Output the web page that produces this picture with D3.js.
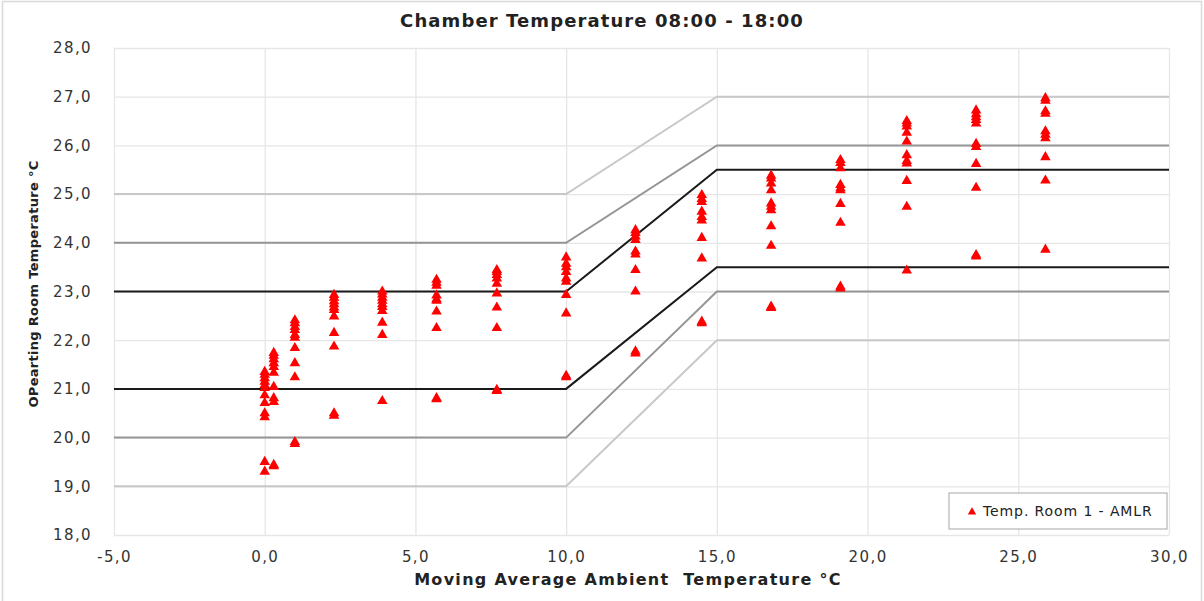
<!DOCTYPE html>
<html>
<head>
<meta charset="utf-8">
<script src="https://cdn.jsdelivr.net/npm/d3@7"></script>
<style>
  html, body { margin: 0; padding: 0; background: #fff; }
  text { font-family: "DejaVu Sans", Verdana, sans-serif; }
</style>
</head>
<body>
<script>
// ambient temperature groups and the room readings measured at each
const ambient = [0.0, 0.3, 1.0, 2.3, 3.9, 5.7, 7.7, 10.0, 12.3, 14.5, 16.8, 19.1, 21.3, 23.6, 25.9];
const roomTemps = [
  [21.35, 21.29, 21.22, 21.15, 21.08, 21.02, 20.87, 20.71, 20.5, 20.42, 19.5, 19.3],
  [21.74, 21.68, 21.61, 21.53, 21.45, 21.33, 21.04, 20.81, 20.73, 19.44, 19.41],
  [22.41, 22.35, 22.27, 22.21, 22.11, 22.05, 21.84, 21.53, 21.24, 19.91, 19.87],
  [22.93, 22.87, 22.8, 22.74, 22.67, 22.62, 22.49, 22.15, 21.87, 20.5, 20.45],
  [23.0, 22.94, 22.87, 22.81, 22.74, 22.68, 22.6, 22.36, 22.11, 20.75],
  [23.24, 23.18, 23.12, 22.92, 22.84, 22.81, 22.59, 22.25, 20.81, 20.79],
  [23.44, 23.4, 23.34, 23.27, 23.16, 22.96, 22.67, 22.25, 20.98, 20.96],
  [23.7, 23.57, 23.5, 23.4, 23.27, 23.2, 22.93, 22.55, 21.27, 21.24],
  [24.26, 24.2, 24.13, 24.06, 23.82, 23.76, 23.44, 23.0, 21.77, 21.73],
  [24.98, 24.9, 24.84, 24.64, 24.53, 24.46, 24.1, 23.68, 22.38, 22.35],
  [25.38, 25.32, 25.22, 25.08, 24.81, 24.74, 24.67, 24.34, 23.94, 22.69, 22.66],
  [25.7, 25.64, 25.53, 25.19, 25.12, 25.08, 24.8, 24.41, 23.1, 23.06],
  [26.5, 26.45, 26.39, 26.26, 26.08, 25.8, 25.68, 25.63, 25.27, 24.74, 23.43],
  [26.72, 26.64, 26.58, 26.52, 26.45, 26.03, 25.97, 25.62, 25.13, 23.75, 23.72],
  [26.97, 26.92, 26.7, 26.65, 26.29, 26.22, 26.15, 25.76, 25.28, 23.86]
];

// comfort band break points
const bandX = [-5, 10, 15, 30];
const outerUpper = [25, 25, 27, 27];
const outerLower = [19, 19, 22, 22];
const midUpper = [24, 24, 26, 26];
const midLower = [20, 20, 23, 23];
const innerUpper = [23, 23, 25.5, 25.5];
const innerLower = [21, 21, 23.5, 23.5];

const xTicks = [-5, 0, 5, 10, 15, 20, 25, 30];
const yTicks = [18, 19, 20, 21, 22, 23, 24, 25, 26, 27, 28];

const width = 1204, height = 601;
const margin = { top: 48, right: 35, bottom: 66, left: 114 };

const svg = d3.select("body").append("svg")
  .attr("width", width)
  .attr("height", height);

// outer chart frame
svg.append("rect")
  .attr("x", 2.5).attr("y", 1.5)
  .attr("width", 1199).attr("height", 610)
  .attr("fill", "none")
  .attr("stroke", "#d9d9d9")
  .attr("stroke-width", 1.5);

const x = d3.scaleLinear().domain([-5, 30]).range([margin.left, width - margin.right]);
const y = d3.scaleLinear().domain([18, 28]).range([height - margin.bottom, margin.top]);

const fmt = d => d.toFixed(1).replace(".", ",");

// gridlines
svg.append("g")
  .attr("transform", `translate(0,${height - margin.bottom})`)
  .call(d3.axisBottom(x).tickValues(xTicks).tickSize(-(height - margin.top - margin.bottom)).tickFormat(""))
  .call(g => g.select(".domain").remove())
  .call(g => g.selectAll("line").attr("stroke", "#e6e6e6").attr("stroke-width", 1.3));

svg.append("g")
  .attr("transform", `translate(${margin.left},0)`)
  .call(d3.axisLeft(y).tickValues(yTicks).tickSize(-(width - margin.left - margin.right)).tickFormat(""))
  .call(g => g.select(".domain").remove())
  .call(g => g.selectAll("line").attr("stroke", "#e6e6e6").attr("stroke-width", 1.3));

// tick labels
svg.append("g")
  .attr("transform", `translate(0,${height - margin.bottom})`)
  .call(d3.axisBottom(x).tickValues(xTicks).tickSize(0).tickPadding(16).tickFormat(fmt))
  .call(g => g.select(".domain").remove())
  .call(g => g.selectAll("text")
    .attr("font-size", 15).attr("letter-spacing", 1.4).attr("fill", "#333")
    .style("font-family", "'DejaVu Sans', Verdana, sans-serif"));

svg.append("g")
  .attr("transform", `translate(${margin.left},0)`)
  .call(d3.axisLeft(y).tickValues(yTicks).tickSize(0).tickPadding(22).tickFormat(fmt))
  .call(g => g.select(".domain").remove())
  .call(g => g.selectAll("text")
    .attr("font-size", 15).attr("letter-spacing", 1.4).attr("fill", "#333")
    .style("font-family", "'DejaVu Sans', Verdana, sans-serif"));

// comfort band lines
const line = d3.line().x((d, i) => x(bandX[i])).y(d => y(d));
const bands = [
  { values: outerUpper, color: "#c8c8c8" },
  { values: outerLower, color: "#c8c8c8" },
  { values: midUpper, color: "#959595" },
  { values: midLower, color: "#959595" },
  { values: innerUpper, color: "#1a1a1a" },
  { values: innerLower, color: "#1a1a1a" }
];
svg.append("g").selectAll("path")
  .data(bands)
  .join("path")
  .attr("d", d => line(d.values))
  .attr("fill", "none")
  .attr("stroke", d => d.color)
  .attr("stroke-width", 2);

// measurements
const points = ambient.flatMap((a, i) => roomTemps[i].map(t => ({ a, t })));
const tri = d3.symbol().type(d3.symbolTriangle).size(48);
svg.append("g").selectAll("path")
  .data(points)
  .join("path")
  .attr("d", tri)
  .attr("transform", d => `translate(${x(d.a)},${y(d.t)})`)
  .attr("fill", "#ff0000");

// title and axis titles
svg.append("text")
  .attr("x", 602).attr("y", 27)
  .attr("text-anchor", "middle")
  .attr("font-size", 18).attr("font-weight", "bold").attr("letter-spacing", 1.1)
  .attr("fill", "#222")
  .text("Chamber Temperature 08:00 - 18:00");

svg.append("text")
  .attr("x", 628).attr("y", 585)
  .attr("text-anchor", "middle")
  .attr("font-size", 16).attr("font-weight", "bold").attr("letter-spacing", 1.3)
  .attr("fill", "#222")
  .style("white-space", "pre")
  .text("Moving Average Ambient  Temperature °C");

svg.append("text")
  .attr("transform", "translate(38,284) rotate(-90)")
  .attr("text-anchor", "middle")
  .attr("font-size", 13).attr("font-weight", "bold").attr("letter-spacing", 0.3)
  .attr("fill", "#222")
  .text("OPearting Room Temperature °C");

// legend
const legend = svg.append("g").attr("transform", "translate(949,493)");
legend.append("rect")
  .attr("width", 218).attr("height", 36)
  .attr("fill", "#fff")
  .attr("stroke", "#a6a6a6")
  .attr("stroke-width", 1);
legend.append("path")
  .attr("d", d3.symbol().type(d3.symbolTriangle).size(30)())
  .attr("transform", "translate(23,19)")
  .attr("fill", "#ff0000");
legend.append("text")
  .attr("x", 34).attr("y", 23)
  .attr("font-size", 14).attr("letter-spacing", 0.9)
  .attr("fill", "#222")
  .text("Temp. Room 1 - AMLR");
</script>
</body>
</html>
